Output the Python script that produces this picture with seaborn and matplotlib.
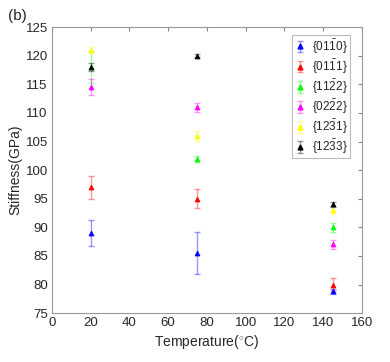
import numpy as np
import pandas as pd
import matplotlib
matplotlib.use('Agg')
import matplotlib.pyplot as plt
from matplotlib.lines import Line2D
from matplotlib.legend_handler import HandlerTuple
import seaborn as sns

# values
temps = [20, 75, 145]
labels = [r'$\{01\bar{1}0\}$', r'$\{01\bar{1}1\}$', r'$\{11\bar{2}2\}$',
          r'$\{02\bar{2}2\}$', r'$\{12\bar{3}1\}$', r'$\{12\bar{3}3\}$']
colors = ['#0000ff', '#ff0000', '#00ff00', '#ff00ff', '#ffff00', '#000000']

stiff_0110 = [89.0, 85.5, 78.8]
stiff_0111 = [97.0, 95.0, 80.0]
stiff_1122 = [118.0, 102.0, 90.0]
stiff_0222 = [114.5, 111.0, 87.0]
stiff_1231 = [121.0, 106.0, 93.0]
stiff_1233 = [118.0, 120.0, 94.0]

err_0110 = [2.3, 3.6, 0.5]
err_0111 = [2.0, 1.7, 1.1]
err_1122 = [2.8, 0.5, 0.8]
err_0222 = [1.4, 0.8, 0.8]
err_1231 = [0.5, 0.9, 0.7]
err_1233 = [0.75, 0.3, 0.5]

values = [stiff_0110, stiff_0111, stiff_1122, stiff_0222, stiff_1231, stiff_1233]
errors = [err_0110, err_0111, err_1122, err_0222, err_1231, err_1233]

rows = []
for lab, v, e in zip(labels, values, errors):
    for t, vi, ei in zip(temps, v, e):
        rows.append({'Temperature': t, 'Stiffness': vi, 'err': ei, 'plane': lab})
df = pd.DataFrame(rows)

sns.set_style('white')
plt.rcParams['font.family'] = ['Liberation Sans', 'DejaVu Sans']
plt.rcParams['mathtext.fontset'] = 'custom'
plt.rcParams['mathtext.rm'] = 'Liberation Sans'
plt.rcParams['mathtext.it'] = 'Liberation Sans'

fig = plt.figure(figsize=(3.9, 3.62), dpi=100)
ax = fig.add_axes([0.133, 0.135, 0.795, 0.79])

handles = []
for lab, col in zip(labels, colors):
    sub = df[df['plane'] == lab]
    eb = ax.errorbar(sub['Temperature'], sub['Stiffness'], yerr=sub['err'],
                     fmt='none', ecolor=matplotlib.colors.to_rgba(col, 0.4),
                     elinewidth=1.0, capsize=2, capthick=1.0)
    sns.scatterplot(data=sub, x='Temperature', y='Stiffness', color=col,
                    marker='^', s=13, edgecolor=col, linewidth=0.5,
                    legend=False, ax=ax, zorder=3)
    mk = Line2D([], [], marker='^', color=col, ls='none', ms=3.5)
    handles.append((eb, mk))

ax.set_xlim(0, 160)
ax.set_ylim(75, 125)
ax.set_xticks(np.arange(0, 161, 20))
ax.set_yticks(np.arange(75, 126, 5))
ax.tick_params(direction='in', length=3, labelsize=9.5, color='#888888',
               top=True, right=True, pad=3)
for sp in ax.spines.values():
    sp.set_color('#999999')
    sp.set_linewidth(0.8)
ax.set_xlabel(r'Temperature($^{\circ}$C)', fontsize=10, labelpad=3)
ax.set_ylabel('Stiffness(GPa)', fontsize=10, labelpad=2)

leg = ax.legend(handles, labels, loc='upper right',
                bbox_to_anchor=(0.962, 0.973), fontsize=8.5,
                handler_map={tuple: HandlerTuple(ndivide=1)},
                frameon=True, fancybox=False, borderpad=0.2, labelspacing=0.15,
                handlelength=1.0, handletextpad=0.5, borderaxespad=0)
leg.get_frame().set_edgecolor('#aaaaaa')
leg.get_frame().set_linewidth(0.8)

fig.text(0.02, 0.955, '(b)', fontsize=11, va='center', ha='left')

fig.savefig('out.png', dpi=100)
